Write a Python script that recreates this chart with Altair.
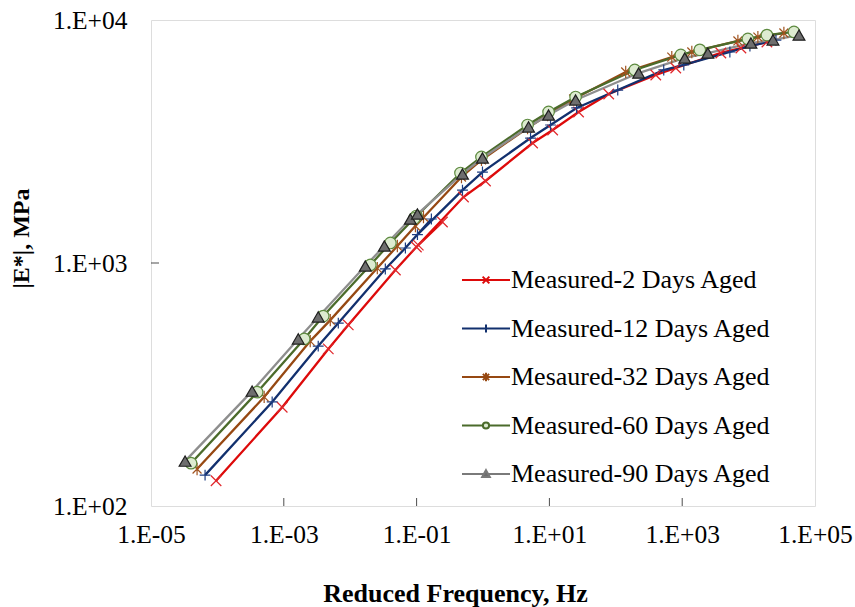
import altair as alt
import pandas as pd

# ---------------- data ----------------
series_names = ["Measured-2 Days Aged", "Measured-12 Days Aged", "Mesaured-32 Days Aged",
                "Measured-60 Days Aged", "Measured-90 Days Aged"]

freq_2 = [9.55e-5, 9.46e-4, 4.68e-3, 9.35e-3, 4.79e-2, 9.93e-2, 0.245,
          0.106, 0.508, 1.09, 5.58, 11.2, 27.5,
          78.2, 400, 800, 3820, 7660, 18880]
E_2 = [127, 255, 443, 556, 936, 1164, 1475,
       1185, 1869, 2175, 3118, 3527, 4183,
       4958, 5937, 6346, 7317, 7670, 8116]

freq_12 = [6.52e-5, 6.68e-4, 3.30e-3, 6.62e-3, 3.38e-2, 6.78e-2, 0.167,
           0.103, 0.491, 0.982, 5.20, 10.4, 25.7,
           107, 527, 1057, 5224, 10470, 25820]
E_12 = [134, 268, 455, 566, 945, 1153, 1517,
        1309, 1996, 2368, 3268, 3697, 4345,
        5150, 6228, 6530, 7385, 7816, 8270]

freq_32 = [4.94e-5, 5.06e-4, 2.50e-3, 5.01e-3, 2.56e-2, 5.13e-2, 0.127,
           0.0960, 0.474, 0.948, 4.69, 9.40, 23.2,
           141, 697, 1396, 6900, 13800, 34000]
E_32 = [142, 281, 477, 582, 953, 1175, 1546,
        1420, 2259, 2655, 3594, 4064, 4730,
        6110, 7040, 7385, 8200, 8510, 8840]

freq_60 = [4.01e-5, 3.97e-4, 2.03e-3, 3.93e-3, 2.01e-2, 4.03e-2, 0.0993,
           0.0927, 0.458, 0.948, 4.69, 9.72, 24.8,
           193, 953, 1841, 9750, 18880, 48200]
E_60 = [150, 294, 487, 605, 982, 1209, 1561,
        1528, 2346, 2731, 3697, 4183, 4820,
        6228, 7180, 7540, 8360, 8670, 8930]

freq_90 = [3.26e-5, 3.33e-4, 1.65e-3, 3.30e-3, 1.69e-2, 3.27e-2, 8.05e-2,
           0.103, 0.491, 0.982, 4.85, 9.72, 24.8,
           221, 1094, 2432, 10840, 23280, 57400]
E_90 = [153, 297, 487, 600, 972, 1175, 1517,
        1591, 2325, 2705, 3630, 4064, 4688,
        6050, 6978, 7310, 8040, 8280, 8670]

x_tick_values = [1e-5, 1e-3, 1e-1, 1e1, 1e3, 1e5]
y_tick_values = [1e2, 1e3, 1e4]

# ---------------- styles ----------------
line_colors = ["#DD0A0A", "#12306E", "#964812", "#4B6B2B", "#8E8E8E"]
marker_strokes = ["#E0262B", "#1D3D82", "#A0521E", "#5D8A3F", "#1E1E1E"]
marker_fills = ["transparent", "transparent", "transparent", "#DDEBD0", "#6E6E6E"]
marker_shapes = [
    "M-1,-1L1,1M-1,1L1,-1",
    "M-1,0H1M0,-1V1",
    "M-0.8,-0.8L0.8,0.8M-0.8,0.8L0.8,-0.8M0,-1.1V1.1",
    "circle",
    "triangle-up",
]
legend_shapes = [
    "M-1,0H1M-0.14,-0.14L0.14,0.14M-0.14,0.14L0.14,-0.14",
    "M-1,0H1M0,-0.17V0.17",
    "M-1,0H1M-0.13,-0.13L0.13,0.13M-0.13,0.13L0.13,-0.13M0,-0.18V0.18",
    "M-1,0H-0.13M0.13,0H1M-0.13,0A0.13,0.13,0,1,1,0.13,0A0.13,0.13,0,1,1,-0.13,0Z",
    "M-1,0H-0.09M0.09,0H1M0,-0.16L0.16,0.13L-0.16,0.13Z",
]
legend_strokes = ["#DD0A0A", "#12306E", "#964812", "#4B6B2B", "#7A7A7A"]

rows = []
for name, fr, ev in zip(series_names,
                        [freq_2, freq_12, freq_32, freq_60, freq_90],
                        [E_2, E_12, E_32, E_60, E_90]):
    for i, (f, e) in enumerate(zip(fr, ev)):
        rows.append({"series": name, "freq": f, "E": e, "idx": i})
df = pd.DataFrame(rows)

FONT = "Liberation Serif"

xscale = alt.Scale(type="log", domain=[1e-5, 1e5], nice=False)
yscale = alt.Scale(type="log", domain=[100, 10000], nice=False)

label_expr = ("'1.E' + (datum.value < 1 ? '-' : '+') + "
              "(abs(round(log(datum.value)/LN10)) < 10 ? '0' : '') + "
              "abs(round(log(datum.value)/LN10))")

x_enc = alt.X("freq:Q", scale=xscale,
              axis=alt.Axis(values=x_tick_values, labelExpr=label_expr, grid=False,
                            ticks=False, tickSize=0, domain=False, labelPadding=16,
                            labelFont=FONT, labelFontSize=25.5, labelColor="black",
                            title="Reduced Frequency, Hz", titleFont=FONT,
                            titleFontSize=26, titleFontWeight="bold", titleColor="black",
                            titleX=304, titleY=87, titleBaseline="middle",
                            labelFlush=False, labelOverlap=False))
y_enc = alt.Y("E:Q", scale=yscale,
              axis=alt.Axis(values=y_tick_values, labelExpr=label_expr, grid=False,
                            ticks=False, tickSize=0, domain=False, labelPadding=24,
                            labelFont=FONT, labelFontSize=25.5, labelColor="black",
                            title="|E*|, MPa", titleFont=FONT, titleFontSize=24,
                            titleFontWeight="bold", titleColor="black",
                            titleX=-130, titleY=218, titleAngle=270,
                            titleAlign="center", titleBaseline="middle",
                            labelFlush=False, labelOverlap=False))

base = alt.Chart(df)

lines = base.mark_line(strokeWidth=2.3).encode(
    x=x_enc, y=y_enc,
    color=alt.Color("series:N", scale=alt.Scale(domain=series_names, range=line_colors),
                    legend=None),
    strokeWidth=alt.StrokeWidth("series:N",
                                scale=alt.Scale(domain=series_names,
                                                range=[2.2, 2.2, 2.2, 2.2, 3.2]),
                                legend=None),
    order="idx:Q",
)

points = base.mark_point(strokeWidth=1.2, opacity=1).encode(
    x="freq:Q", y="E:Q",
    shape=alt.Shape("series:N", scale=alt.Scale(domain=series_names, range=marker_shapes),
                    legend=None),
    stroke=alt.Stroke("series:N", scale=alt.Scale(domain=series_names, range=marker_strokes),
                      legend=None),
    fill=alt.Fill("series:N", scale=alt.Scale(domain=series_names, range=marker_fills),
                  legend=None),
    size=alt.Size("series:N", scale=alt.Scale(domain=series_names,
                                              range=[110, 140, 110, 120, 190]),
                  legend=None),
)

legend_kw = dict(orient="none", legendX=310, legendY=235, title=None,
                 labelFont=FONT, labelFontSize=26, labelColor="black", labelLimit=0,
                 symbolSize=2304, symbolStrokeWidth=2.0, labelOffset=0,
                 rowPadding=10.5, padding=0, symbolOpacity=1)

legend_layer = base.transform_filter("datum.E < 0").mark_point(opacity=1).encode(
    x="freq:Q", y="E:Q",
    shape=alt.Shape("series:N", scale=alt.Scale(domain=series_names, range=legend_shapes),
                    legend=alt.Legend(**legend_kw)),
    stroke=alt.Stroke("series:N", scale=alt.Scale(domain=series_names, range=legend_strokes),
                      legend=alt.Legend(**legend_kw)),
    fill=alt.Fill("series:N", scale=alt.Scale(domain=series_names, range=marker_fills),
                  legend=alt.Legend(**legend_kw)),
)

# inward tick marks on the axes
xt = pd.DataFrame({"freq": x_tick_values[1:-1], "E": [100] * 4})
yt = pd.DataFrame({"freq": [1e-5], "E": y_tick_values[1:2]})
xticks = alt.Chart(xt).mark_tick(orient="vertical", size=8, thickness=1, yOffset=-4,
                                 color="black").encode(x="freq:Q", y="E:Q")
yticks = alt.Chart(yt).mark_tick(orient="horizontal", size=8, thickness=1, xOffset=4,
                                 color="black").encode(x="freq:Q", y="E:Q")

chart = alt.layer(lines, points, legend_layer, xticks, yticks).resolve_scale(
    shape="independent", stroke="independent", fill="independent"
).properties(
    width=664, height=486,
    autosize=alt.AutoSizeParams(type="none"),
    padding={"left": 151, "top": 20, "right": 40, "bottom": 101},
).configure_view(stroke="black", strokeWidth=1.6).configure(background="white")

chart.save("out.html", embed_options={"renderer": "svg", "actions": False})
